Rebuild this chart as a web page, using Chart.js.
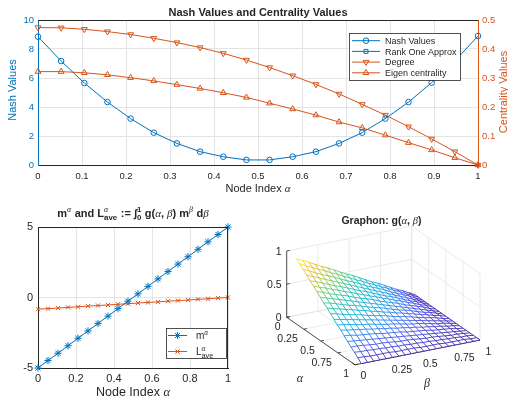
<!DOCTYPE html>
<html>
<head>
<meta charset="utf-8">
<title>Nash Values and Centrality Values</title>
<script src="https://cdn.jsdelivr.net/npm/chart.js@4.4.1/dist/chart.umd.min.js"></script>
<style>
  html, body { margin: 0; padding: 0; background: #fff; }
  #fig { position: relative; width: 508px; height: 400px; overflow: hidden; }
  #fig canvas { position: absolute; }
</style>
</head>
<body>
<div id="fig">
  <canvas id="topChart" width="508" height="200" style="left:0;top:0"></canvas>
  <canvas id="meanChart" width="250" height="200" style="left:0;top:200px"></canvas>
  <canvas id="graphonChart" width="258" height="200" style="left:250px;top:200px"></canvas>
</div>
<script>
const FONT = '"Liberation Sans", Helvetica, Arial, sans-serif';
const SERIF = '"Liberation Serif", "DejaVu Serif", serif';
const TEXT = '#262626';
const GRID = '#e4e4e4';
const BLUE = 'rgb(0,114,189)';
const ORANGE = 'rgb(217,83,25)';

// ---- data: top panel ----
const nodeIndex = [0, 0.0526, 0.1053, 0.1579, 0.2105, 0.2632, 0.3158, 0.3684, 0.4211, 0.4737,
  0.5263, 0.5789, 0.6316, 0.6842, 0.7368, 0.7895, 0.8421, 0.8947, 0.9474, 1];
const nashValues = [8.85, 7.17, 5.65, 4.34, 3.2, 2.23, 1.49, 0.92, 0.57, 0.35,
  0.35, 0.57, 0.92, 1.49, 2.23, 3.2, 4.34, 5.68, 7.17, 8.9];
const rankOneApprox = [];  // only shows up in the legend
const degreeValues = [0.474, 0.473, 0.468, 0.460, 0.450, 0.437, 0.422, 0.405, 0.385, 0.362,
  0.336, 0.308, 0.278, 0.245, 0.209, 0.172, 0.132, 0.090, 0.046, 0];
const eigenCentrality = [0.322, 0.322, 0.318, 0.311, 0.301, 0.290, 0.277, 0.264, 0.249, 0.233,
  0.213, 0.193, 0.172, 0.148, 0.128, 0.103, 0.077, 0.052, 0.025, 0];

// ---- data: bottom left ----
const mAlpha = [-5, -4.47, -3.95, -3.42, -2.89, -2.37, -1.84, -1.32, -0.79, -0.26,
  0.26, 0.79, 1.32, 1.84, 2.37, 2.89, 3.42, 3.95, 4.47, 5];
const lAve = [-0.83, -0.79, -0.75, -0.70, -0.66, -0.61, -0.57, -0.53, -0.48, -0.44,
  -0.39, -0.35, -0.31, -0.26, -0.22, -0.18, -0.13, -0.09, -0.04, 0];

// ---- data: graphon surface (rows = alpha, columns = beta) ----
const graphonAxis = [0.05, 0.10, 0.15, 0.20, 0.25, 0.30, 0.35, 0.40, 0.45, 0.50,
  0.55, 0.60, 0.65, 0.70, 0.75, 0.80, 0.85, 0.90, 0.95, 1];
const graphonTicks = [0, 0.25, 0.5, 0.75, 1];
const graphonZTicks = [0, 0.5, 1];
const graphonG = [
  [0.90,0.86,0.81,0.76,0.71,0.67,0.62,0.57,0.52,0.48,0.43,0.38,0.33,0.29,0.24,0.19,0.14,0.10,0.05,0],
  [0.86,0.81,0.77,0.72,0.68,0.63,0.59,0.54,0.50,0.45,0.41,0.36,0.32,0.27,0.23,0.18,0.14,0.09,0.05,0],
  [0.81,0.77,0.72,0.68,0.64,0.60,0.55,0.51,0.47,0.43,0.38,0.34,0.30,0.26,0.21,0.17,0.13,0.09,0.04,0],
  [0.76,0.72,0.68,0.64,0.60,0.56,0.52,0.48,0.44,0.40,0.36,0.32,0.28,0.24,0.20,0.16,0.12,0.08,0.04,0],
  [0.71,0.68,0.64,0.60,0.56,0.53,0.49,0.45,0.41,0.38,0.34,0.30,0.26,0.23,0.19,0.15,0.11,0.08,0.04,0],
  [0.67,0.63,0.60,0.56,0.53,0.49,0.46,0.42,0.39,0.35,0.32,0.28,0.25,0.21,0.18,0.14,0.11,0.07,0.04,0],
  [0.62,0.59,0.55,0.52,0.49,0.46,0.42,0.39,0.36,0.33,0.29,0.26,0.23,0.20,0.16,0.13,0.10,0.07,0.03,0],
  [0.57,0.54,0.51,0.48,0.45,0.42,0.39,0.36,0.33,0.30,0.27,0.24,0.21,0.18,0.15,0.12,0.09,0.06,0.03,0],
  [0.52,0.50,0.47,0.44,0.41,0.39,0.36,0.33,0.30,0.28,0.25,0.22,0.19,0.17,0.14,0.11,0.08,0.06,0.03,0],
  [0.48,0.45,0.43,0.40,0.38,0.35,0.33,0.30,0.28,0.25,0.23,0.20,0.18,0.15,0.13,0.10,0.08,0.05,0.03,0],
  [0.43,0.41,0.38,0.36,0.34,0.32,0.29,0.27,0.25,0.23,0.20,0.18,0.16,0.14,0.11,0.09,0.07,0.05,0.02,0],
  [0.38,0.36,0.34,0.32,0.30,0.28,0.26,0.24,0.22,0.20,0.18,0.16,0.14,0.12,0.10,0.08,0.06,0.04,0.02,0],
  [0.33,0.32,0.30,0.28,0.26,0.25,0.23,0.21,0.19,0.18,0.16,0.14,0.12,0.11,0.09,0.07,0.05,0.04,0.02,0],
  [0.29,0.27,0.26,0.24,0.23,0.21,0.20,0.18,0.17,0.15,0.14,0.12,0.11,0.09,0.08,0.06,0.05,0.03,0.02,0],
  [0.24,0.23,0.21,0.20,0.19,0.18,0.16,0.15,0.14,0.13,0.11,0.10,0.09,0.08,0.06,0.05,0.04,0.03,0.01,0],
  [0.19,0.18,0.17,0.16,0.15,0.14,0.13,0.12,0.11,0.10,0.09,0.08,0.07,0.06,0.05,0.04,0.03,0.02,0.01,0],
  [0.14,0.14,0.13,0.12,0.11,0.11,0.10,0.09,0.08,0.08,0.07,0.06,0.05,0.05,0.04,0.03,0.02,0.02,0.01,0],
  [0.10,0.09,0.09,0.08,0.08,0.07,0.07,0.06,0.06,0.05,0.05,0.04,0.04,0.03,0.03,0.02,0.02,0.01,0.01,0],
  [0.05,0.05,0.04,0.04,0.04,0.04,0.03,0.03,0.03,0.03,0.02,0.02,0.02,0.02,0.01,0.01,0.01,0.01,0,0],
  [0,0,0,0,0,0,0,0,0,0,0,0,0,0,0,0,0,0,0,0]
];

const xy = (xs, ys) => ys.map((y, i) => ({ x: xs[i], y }));
// MATLAB style tick text: 1 instead of 1.0
const shortTick = v => String(+Number(v).toFixed(2));

// ---- text helpers ----
function fontOf(p, size) {
  return `${p.italic ? 'italic ' : ''}${p.bold ? 'bold ' : ''}${size}px ${p.serif ? SERIF : FONT}`;
}

// parts: {t, bold, italic, serif} or {sup, sub, supBold, subBold}
function richText(ctx, parts, size, x0, y, draw) {
  let x = x0;
  const s = Math.round(size * 0.72 * 10) / 10;
  for (const p of parts) {
    if (p.t !== undefined) {
      ctx.font = fontOf(p, size);
      if (draw) ctx.fillText(p.t, x, y);
      x += ctx.measureText(p.t).width;
    } else {
      let w = 0;
      if (p.sup) {
        ctx.font = fontOf({ bold: p.supBold, italic: p.supItalic, serif: p.supSerif }, s);
        if (draw) ctx.fillText(p.sup, x, y - size * 0.42);
        w = Math.max(w, ctx.measureText(p.sup).width);
      }
      if (p.sub) {
        ctx.font = fontOf({ bold: p.subBold }, s);
        if (draw) ctx.fillText(p.sub, x, y + size * 0.3);
        w = Math.max(w, ctx.measureText(p.sub).width);
      }
      x += w + 0.5;
    }
  }
  return x - x0;
}

function textLayer(items) {
  return {
    id: 'textLayer',
    afterDraw(chart) {
      const ctx = chart.ctx;
      items.forEach(item => {
        ctx.save();
        ctx.fillStyle = item.color || TEXT;
        ctx.translate(item.x, item.y);
        if (item.rotate) ctx.rotate(item.rotate);
        const parts = item.parts || [{ t: item.text, bold: item.bold, italic: item.italic, serif: item.serif }];
        ctx.textAlign = 'left';
        ctx.textBaseline = 'alphabetic';
        const w = richText(ctx, parts, item.size, 0, 0, false);
        const align = item.align || 'center';
        const x0 = align === 'center' ? -w / 2 : align === 'right' ? -w : 0;
        richText(ctx, parts, item.size, x0, item.size * 0.35, true);
        ctx.restore();
      });
    }
  };
}

function legendBox(box, labelParts) {
  return {
    id: 'legendBox',
    afterDraw(chart) {
      const ctx = chart.ctx;
      ctx.save();
      ctx.fillStyle = '#fff';
      ctx.fillRect(box.x, box.y, box.w, box.h);
      ctx.strokeStyle = TEXT;
      ctx.lineWidth = 0.8;
      ctx.strokeRect(box.x + 0.5, box.y + 0.5, box.w, box.h);
      chart.data.datasets.forEach((ds, i) => {
        const y = box.y + box.first + i * box.gap;
        ctx.strokeStyle = ds.borderColor;
        ctx.lineWidth = 1;
        ctx.beginPath();
        ctx.moveTo(box.x + box.lineFrom, y);
        ctx.lineTo(box.x + box.lineTo, y);
        ctx.stroke();
        ctx.fillStyle = 'rgba(0,0,0,0)';
        Chart.helpers.drawPoint(ctx, {
          pointStyle: ds.pointStyle, radius: ds.pointRadius,
          rotation: ds.pointRotation || 0, borderWidth: 1
        }, box.x + (box.lineFrom + box.lineTo) / 2, y);
        ctx.fillStyle = TEXT;
        ctx.textBaseline = 'alphabetic';
        ctx.textAlign = 'left';
        const parts = labelParts ? labelParts[i] : [{ t: ds.label }];
        richText(ctx, parts, box.size, box.x + box.textX, y + box.size * 0.35, true);
      });
      ctx.restore();
    }
  };
}

function boxLines(sides) {
  return {
    id: 'boxLines',
    afterDatasetsDraw(chart) {
      const { ctx, chartArea: a } = chart;
      ctx.save();
      ctx.strokeStyle = TEXT;
      ctx.lineWidth = 1;
      ctx.beginPath();
      if (sides.includes('top')) { ctx.moveTo(a.left, a.top + 0.5); ctx.lineTo(a.right, a.top + 0.5); }
      if (sides.includes('right')) { ctx.moveTo(a.right - 0.5, a.top); ctx.lineTo(a.right - 0.5, a.bottom); }
      ctx.stroke();
      ctx.restore();
    }
  };
}

const noEvents = { responsive: false, animation: false, events: [] };
const hiddenPlugins = { legend: { display: false }, tooltip: { enabled: false } };
const lineBase = { borderWidth: 1, pointBorderWidth: 1, pointBackgroundColor: 'rgba(0,0,0,0)', tension: 0, clip: false };

// ---- top: Nash values and centrality values ----
new Chart(document.getElementById('topChart'), {
  type: 'line',
  data: {
    datasets: [
      { label: 'Nash Values', data: xy(nodeIndex, nashValues), yAxisID: 'y', borderColor: BLUE,
        pointBorderColor: BLUE, pointStyle: 'circle', pointRadius: 2.8, ...lineBase },
      { label: 'Rank One Approx', data: xy(nodeIndex, rankOneApprox), yAxisID: 'y', borderColor: BLUE,
        pointBorderColor: BLUE, pointStyle: 'rect', pointRadius: 2.8, ...lineBase },
      { label: 'Degree', data: xy(nodeIndex, degreeValues), yAxisID: 'y1', borderColor: ORANGE,
        pointBorderColor: ORANGE, pointStyle: 'triangle', pointRotation: 180, pointRadius: 3.4, ...lineBase },
      { label: 'Eigen centrality', data: xy(nodeIndex, eigenCentrality), yAxisID: 'y1', borderColor: ORANGE,
        pointBorderColor: ORANGE, pointStyle: 'triangle', pointRadius: 3.4, ...lineBase }
    ]
  },
  options: {
    ...noEvents,
    layout: { padding: { top: 20, left: 0, right: 0, bottom: 0 }, autoPadding: false },
    plugins: hiddenPlugins,
    scales: {
      x: {
        type: 'linear', min: 0, max: 1,
        afterFit: s => { s.height = 35; },
        ticks: { stepSize: 0.1, autoSkip: false, maxRotation: 0, color: TEXT, padding: 6,
                 font: { family: FONT, size: 9.5 }, callback: shortTick },
        grid: { color: GRID, drawTicks: false },
        border: { color: TEXT }
      },
      y: {
        position: 'left', min: 0, max: 10,
        afterFit: s => { s.width = 38; },
        ticks: { stepSize: 2, color: BLUE, padding: 4, font: { family: FONT, size: 9.5 }, callback: shortTick },
        grid: { color: GRID, drawTicks: false },
        border: { color: BLUE }
      },
      y1: {
        position: 'right', min: 0, max: 0.5,
        afterFit: s => { s.width = 30; },
        ticks: { stepSize: 0.1, color: ORANGE, padding: 4, font: { family: FONT, size: 9.5 }, callback: shortTick },
        grid: { drawOnChartArea: false, drawTicks: false },
        border: { color: ORANGE }
      }
    }
  },
  plugins: [
    boxLines(['top']),
    legendBox({ x: 349, y: 33, w: 111, h: 47, first: 7.7, gap: 10.7, lineFrom: 3, lineTo: 31, textX: 36, size: 9 }),
    textLayer([
      { text: 'Nash Values and Centrality Values', bold: true, size: 11, x: 258, y: 12 },
      { parts: [{ t: 'Node Index ' }, { t: 'α', italic: true, serif: true }], size: 11, x: 258, y: 188 },
      { text: 'Nash Values', size: 11, x: 12.5, y: 90, rotate: -Math.PI / 2, color: BLUE },
      { text: 'Centrality Values', size: 11, x: 503, y: 92, rotate: -Math.PI / 2, color: ORANGE }
    ])
  ]
});

// ---- bottom left: m and L_ave ----
new Chart(document.getElementById('meanChart'), {
  type: 'line',
  data: {
    datasets: [
      { label: 'm', data: xy(nodeIndex, mAlpha), borderColor: BLUE, pointBorderColor: BLUE,
        pointStyle: 'star', pointRadius: 3.6, ...lineBase },
      { label: 'L', data: xy(nodeIndex, lAve), borderColor: ORANGE, pointBorderColor: ORANGE,
        pointStyle: 'crossRot', pointRadius: 3, ...lineBase }
    ]
  },
  options: {
    ...noEvents,
    layout: { padding: { top: 27, left: 0, right: 22, bottom: 0 }, autoPadding: false },
    plugins: hiddenPlugins,
    scales: {
      x: {
        type: 'linear', min: 0, max: 1,
        afterFit: s => { s.height = 32; },
        ticks: { stepSize: 0.2, autoSkip: false, maxRotation: 0, color: TEXT, padding: 4,
                 font: { family: FONT, size: 11 }, callback: shortTick },
        grid: { color: GRID, drawTicks: false },
        border: { color: TEXT }
      },
      y: {
        min: -5, max: 5,
        afterFit: s => { s.width = 38; },
        ticks: { stepSize: 5, color: TEXT, padding: 5, font: { family: FONT, size: 11 }, callback: shortTick },
        grid: { color: GRID, drawTicks: false },
        border: { color: TEXT }
      }
    }
  },
  plugins: [
    boxLines(['top', 'right']),
    legendBox({ x: 166, y: 128, w: 60, h: 30, first: 7.5, gap: 16, lineFrom: 2, lineTo: 21, textX: 30, size: 10 }, [
      [{ t: 'm' }, { sup: 'α', supItalic: true, supSerif: true }],
      [{ t: 'L' }, { sup: 'α', supItalic: true, supSerif: true, sub: 'ave' }]
    ]),
    textLayer([
      { parts: [
          { t: 'm', bold: true }, { sup: 'α', supItalic: true, supSerif: true },
          { t: ' and L', bold: true }, { sup: 'α', supItalic: true, supSerif: true, sub: 'ave', subBold: true },
          { t: ' := ∫', bold: true }, { sup: '1', sub: '0', supBold: true, subBold: true },
          { t: ' g(', bold: true }, { t: 'α', italic: true, serif: true }, { t: ', ', bold: true },
          { t: 'β', italic: true, serif: true }, { t: ') m', bold: true },
          { sup: 'β', supItalic: true, supSerif: true }, { t: ' d', bold: true }, { t: 'β', italic: true, serif: true }
        ], size: 11, x: 133, y: 13 },
      { parts: [{ t: 'Node Index ' }, { t: 'α', italic: true, serif: true }], size: 12.5, x: 133, y: 192 }
    ])
  ]
});

// ---- bottom right: graphon mesh ----
const view = { ox: 36.7, oy: 117.3, ax: 68.3, ay: 47.5, bx: 125, by: -24.8, zy: -66.3 };
function project(a, b, z) {
  return { x: view.ox + a * view.ax + b * view.bx, y: view.oy + a * view.ay + b * view.by + z * view.zy };
}

const parulaStops = [
  [0.00, 62, 38, 168], [0.12, 72, 82, 244], [0.25, 32, 140, 236], [0.37, 18, 177, 214],
  [0.50, 30, 190, 178], [0.62, 95, 200, 120], [0.75, 185, 195, 60], [0.87, 250, 190, 55], [1.00, 249, 245, 20]
];
function parula(t) {
  t = Math.min(1, Math.max(0, t));
  for (let k = 1; k < parulaStops.length; k++) {
    const a = parulaStops[k - 1], b = parulaStops[k];
    if (t <= b[0]) {
      const f = (t - a[0]) / (b[0] - a[0]);
      const c = [1, 2, 3].map(n => Math.round(a[n] + f * (b[n] - a[n])));
      return `rgb(${c[0]},${c[1]},${c[2]})`;
    }
  }
  return 'rgb(249,245,20)';
}

const surfaceSets = [];
function segment3d(p, q, color, order) {
  surfaceSets.push({ data: [project(...p), project(...q)], borderColor: color, borderWidth: 0.8,
    pointRadius: 0, order, clip: false });
}
// back walls and floor grid
graphonZTicks.forEach(z => {
  segment3d([0, 0, z], [0, 1, z], GRID, 4);
  segment3d([0, 1, z], [1, 1, z], GRID, 4);
});
graphonTicks.forEach(t => {
  segment3d([0, t, 0], [0, t, 1], GRID, 4);
  segment3d([t, 1, 0], [t, 1, 1], GRID, 4);
  segment3d([t, 0, 0], [t, 1, 0], GRID, 4);
  segment3d([0, t, 0], [1, t, 0], GRID, 4);
});
// axes
segment3d([0, 0, 0], [0, 0, 1], TEXT, 3);
segment3d([0, 0, 0], [1, 0, 0], TEXT, 3);
segment3d([1, 0, 0], [1, 1, 0], TEXT, 3);
graphonZTicks.forEach(z => segment3d([0, 0, z], [0, 0.025, z], TEXT, 3));
graphonTicks.forEach(t => {
  segment3d([t, 0, 0], [t, 0.025, 0], TEXT, 3);
  segment3d([1, t, 0], [0.96, t, 0], TEXT, 3);
});

// white face under the mesh
const nLast = graphonAxis.length - 1;
const a0 = graphonAxis[0], aN = graphonAxis[nLast];
surfaceSets.push({
  data: [project(a0, a0, graphonG[0][0]), project(a0, aN, graphonG[0][nLast]),
         project(aN, aN, graphonG[nLast][nLast]), project(aN, a0, graphonG[nLast][0]),
         project(a0, a0, graphonG[0][0])],
  fill: 'shape', backgroundColor: '#fff', borderWidth: 0, pointRadius: 0, order: 2, clip: false
});

// mesh lines coloured by height
const zMax = Math.max(...graphonG.flat());
function meshLine(points) {
  surfaceSets.push({
    data: points, borderWidth: 0.9, pointRadius: 0, order: 1, clip: false, borderColor: '#888',
    segment: { borderColor: c => parula((points[c.p0DataIndex].z + points[c.p1DataIndex].z) / 2 / zMax) }
  });
}
graphonAxis.forEach((a, i) => meshLine(graphonAxis.map((b, j) => ({ ...project(a, b, graphonG[i][j]), z: graphonG[i][j] }))));
graphonAxis.forEach((b, j) => meshLine(graphonAxis.map((a, i) => ({ ...project(a, b, graphonG[i][j]), z: graphonG[i][j] }))));

const surfaceText = [
  { parts: [{ t: 'Graphon: g(', bold: true }, { t: 'α', italic: true, serif: true }, { t: ', ', bold: true },
            { t: 'β', italic: true, serif: true }, { t: ')', bold: true }], size: 10.5, x: 131.5, y: 20 },
  { text: 'α', italic: true, serif: true, size: 12, x: 50, y: 178 },
  { text: 'β', italic: true, serif: true, size: 12, x: 177, y: 183 }
];
graphonZTicks.forEach(z => {
  const p = project(0, 0, z);
  surfaceText.push({ text: String(z), size: 10.5, x: p.x - 5, y: p.y, align: 'right' });
});
graphonTicks.forEach(t => {
  const pa = project(t, 0, 0);
  surfaceText.push({ text: String(t), size: 10.5, x: pa.x - 6, y: pa.y + 9, align: 'right' });
  const pb = project(1, t, 0);
  surfaceText.push({ text: String(t), size: 10.5, x: pb.x + 5.5, y: pb.y + 11, align: 'left' });
});

new Chart(document.getElementById('graphonChart'), {
  type: 'line',
  data: { datasets: surfaceSets },
  options: {
    ...noEvents,
    layout: { padding: 0, autoPadding: false },
    plugins: hiddenPlugins,
    scales: {
      x: { type: 'linear', min: 0, max: 258, display: false },
      y: { type: 'linear', min: 0, max: 200, reverse: true, display: false }
    }
  },
  plugins: [textLayer(surfaceText)]
});
</script>
</body>
</html>
